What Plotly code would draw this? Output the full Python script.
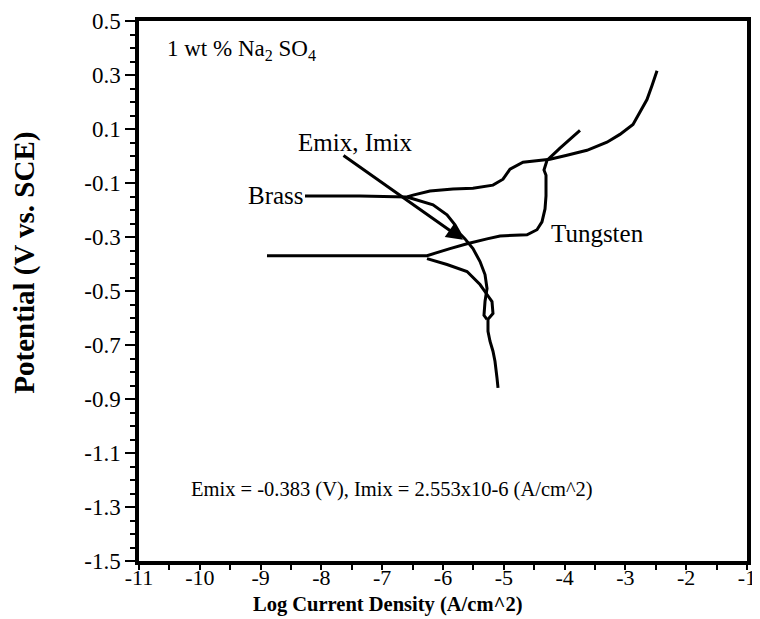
import plotly.graph_objects as go

# ---- data (log current density, potential) ----
brass_anodic_x = [-8.270, -7.365, -6.592, -6.493, -6.214, -5.836, -5.507, -5.178, -5.013, -4.898,
                  -4.684, -4.454, -4.240, -3.961, -3.632, -3.303, -3.090, -2.875, -2.760, -2.645,
                  -2.562, -2.480]
brass_anodic_y = [-0.148, -0.148, -0.152, -0.145, -0.130, -0.122, -0.119, -0.108, -0.086, -0.049,
                  -0.023, -0.016, -0.012, 0.003, 0.021, 0.051, 0.080, 0.117, 0.161, 0.209,
                  0.261, 0.316]

brass_cathodic_x = [-6.592, -6.428, -6.164, -5.934, -5.803, -5.720, -5.638, -5.507, -5.391, -5.309,
                    -5.276, -5.309, -5.326, -5.276]
brass_cathodic_y = [-0.152, -0.163, -0.181, -0.218, -0.255, -0.288, -0.307, -0.343, -0.391, -0.439,
                    -0.491, -0.539, -0.590, -0.605]

tungsten_anodic_x = [-8.895, -6.592, -6.263, -5.885, -5.605, -5.276, -5.062, -4.618, -4.454, -4.372,
                     -4.322, -4.306, -4.306, -4.339, -4.289, -4.076, -3.747]
tungsten_anodic_y = [-0.369, -0.369, -0.369, -0.343, -0.325, -0.307, -0.296, -0.292, -0.273, -0.244,
                     -0.196, -0.148, -0.071, -0.052, -0.016, 0.029, 0.095]

tungsten_cathodic_x = [-6.263, -5.934, -5.605, -5.391, -5.276, -5.194, -5.178, -5.260, -5.260, -5.227,
                       -5.178, -5.145, -5.112, -5.095]
tungsten_cathodic_y = [-0.380, -0.402, -0.428, -0.476, -0.513, -0.539, -0.583, -0.605, -0.649, -0.686,
                       -0.723, -0.760, -0.822, -0.859]

x_ticks = [-11, -10, -9, -8, -7, -6, -5, -4, -3, -2, -1]
y_ticks = [0.5, 0.3, 0.1, -0.1, -0.3, -0.5, -0.7, -0.9, -1.1, -1.3, -1.5]
y_tick_text = ["0.5", "0.3", "0.1", "-0.1", "-0.3", "-0.5", "-0.7", "-0.9", "-1.1", "-1.3", "-1.5"]

emix = -0.383
imix_text = "2.553x10-6"

FONT = "Liberation Serif"
LINE = dict(color="black", width=3)

fig = go.Figure()
for xs, ys in [(brass_anodic_x, brass_anodic_y), (brass_cathodic_x, brass_cathodic_y),
               (tungsten_anodic_x, tungsten_anodic_y), (tungsten_cathodic_x, tungsten_cathodic_y)]:
    fig.add_trace(go.Scatter(x=xs, y=ys, mode="lines", line=LINE, showlegend=False, hoverinfo="skip"))

# page body adds an 8px offset, so the figure is 8px smaller than the window
fig.update_layout(
    width=752, height=611,
    margin=dict(l=131, r=13, t=13, b=58),
    paper_bgcolor="white", plot_bgcolor="white",
    font=dict(family=FONT, color="black", size=20),
    showlegend=False,
)
fig.update_xaxes(
    range=[-11, -1], tickvals=x_ticks, ticktext=[str(v) for v in x_ticks], automargin=False,
    showgrid=False, zeroline=False, showline=True, linecolor="black", linewidth=4, mirror=True,
    ticks="outside", ticklen=5, tickwidth=2, tickcolor="black", ticklabelstandoff=-11,
    ticklabeloverflow="allow",
    minor=dict(dtick=0.5, ticks="outside", ticklen=5, tickwidth=2, tickcolor="black"),
    tickfont=dict(family=FONT, size=22),
)
fig.update_yaxes(
    range=[-1.5, 0.5], tickvals=y_ticks, ticktext=y_tick_text, automargin=False,
    showgrid=False, zeroline=False, showline=True, linecolor="black", linewidth=3.5, mirror=True,
    ticks="outside", ticklen=10, tickwidth=2, tickcolor="black", ticklabeloverflow="allow",
    minor=dict(dtick=0.05, ticks="outside", ticklen=5, tickwidth=2, tickcolor="black"),
    tickfont=dict(family=FONT, size=23),
)

# axis titles placed as text
fig.add_annotation(xref="paper", yref="paper", x=0.4095, y=-0.081, text="<b>Log Current Density (A/cm^2)</b>",
                   showarrow=False, xanchor="center", yanchor="middle",
                   font=dict(family=FONT, size=20.5, color="black"))
fig.add_annotation(xref="paper", yref="paper", x=-0.1875, y=0.5525, text="<b>Potential (V vs. SCE)</b>",
                   textangle=-90, showarrow=False, xanchor="center", yanchor="middle",
                   font=dict(family=FONT, size=29, color="black"))

ann_font = dict(family=FONT, size=25, color="black")
fig.add_annotation(x=-10.572, y=0.393, text="1 wt % Na<sub>2</sub> SO<sub>4</sub>", showarrow=False,
                   xanchor="left", yanchor="middle", font=dict(family=FONT, size=23, color="black"))
fig.add_annotation(x=-8.254, y=-0.148, text="Brass", showarrow=False, xanchor="right", yanchor="middle",
                   font=ann_font)
fig.add_annotation(x=-4.257, y=-0.288, text="Tungsten", showarrow=False, xanchor="left", yanchor="middle",
                   font=ann_font)
fig.add_annotation(x=-7.447, y=0.051, text="Emix, Imix", showarrow=False, xanchor="center", yanchor="middle",
                   font=ann_font)
fig.add_annotation(x=-5.671, y=-0.310, ax=-7.661, ay=0.006, xref="x", yref="y", axref="x", ayref="y",
                   text="", showarrow=True, arrowhead=2, arrowsize=1.1, arrowwidth=3, arrowcolor="black")
fig.add_annotation(x=-6.839, y=-1.235, text=f"Emix = {emix} (V), Imix = {imix_text} (A/cm^2)",
                   showarrow=False, xanchor="center", yanchor="middle",
                   font=dict(family=FONT, size=20.5, color="black"))

fig.write_html("out.html")
